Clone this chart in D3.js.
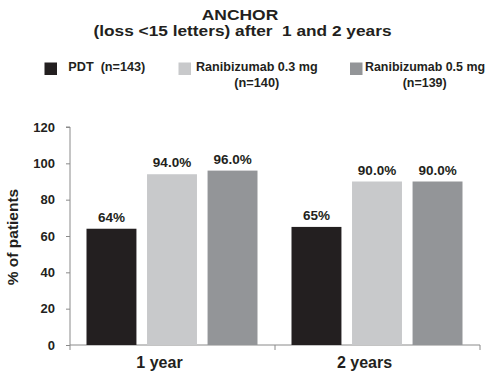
<!DOCTYPE html>
<html><head><meta charset="utf-8">
<script src="https://cdn.jsdelivr.net/npm/d3@7"></script>
<style>body{margin:0;background:#fff}svg{display:block;font-family:"Liberation Sans",Arial,sans-serif;font-weight:bold}text{white-space:pre}</style>
</head><body><div id="chart"></div>
<script>
const categories = ["1 year", "2 years"];
const series = ["PDT", "Ranibizumab 0.3 mg", "Ranibizumab 0.5 mg"];
const legendLine1 = ["PDT  (n=143)", "Ranibizumab 0.3 mg", "Ranibizumab 0.5 mg"];
const legendLine2 = ["", "(n=140)", "(n=139)"];
const pdtValues = [64, 65];
const rani03Values = [94, 90];
const rani05Values = [96, 90];
const valueLabels = [["64%", "94.0%", "96.0%"], ["65%", "90.0%", "90.0%"]];
const yTicks = [0, 20, 40, 60, 80, 100, 120];
const colors = ["#231f20", "#c8c9cb", "#939598"];

const W = 490, H = 385;
const svg = d3.select("#chart").append("svg").attr("width", W).attr("height", H);

const x0 = d3.scaleBand().domain(categories).range([70, 480]).paddingInner(0).paddingOuter(0);
const x1 = d3.scaleBand().domain(series).range([16.5, 187.5]).paddingInner(0.175).paddingOuter(0);
const y = d3.scaleLinear().domain([0, 120]).range([345, 127]);

const data = categories.map((c, i) => ({cat: c, vals: [pdtValues[i], rani03Values[i], rani05Values[i]], labels: valueLabels[i]}));

// title
svg.append("text").attr("x", 240).attr("y", 19.5).attr("text-anchor", "middle").attr("font-size", 15.5)
  .attr("textLength", 76.5).attr("lengthAdjust", "spacingAndGlyphs").attr("fill", "#231f20").text("ANCHOR");
svg.append("text").attr("x", 242.5).attr("y", 35.5).attr("text-anchor", "middle").attr("font-size", 15.5)
  .attr("textLength", 298).attr("lengthAdjust", "spacingAndGlyphs").attr("fill", "#231f20").text("(loss <15 letters) after  1 and 2 years");

// legend
const legX = [44.5, 178.5, 350];
const legTextX = [68.3, 196, 365];
const legLen = [77, 121.7, 120];
const leg2X = [0, 256.8, 424.7];
const leg2Len = [0, 45, 44];
series.forEach((s, i) => {
  svg.append("rect").attr("x", legX[i]).attr("y", 62.5).attr("width", 12.5).attr("height", 12.5).attr("fill", colors[i]);
  svg.append("text").attr("x", legTextX[i]).attr("y", 71).attr("font-size", 12.5)
    .attr("textLength", legLen[i]).attr("lengthAdjust", "spacingAndGlyphs").attr("fill", "#231f20").text(legendLine1[i]);
  if (legendLine2[i]) {
    svg.append("text").attr("x", leg2X[i]).attr("y", 87).attr("text-anchor", "middle").attr("font-size", 12.5)
      .attr("textLength", leg2Len[i]).attr("lengthAdjust", "spacingAndGlyphs").attr("fill", "#231f20").text(legendLine2[i]);
  }
});

// y axis
const yAxis = d3.axisLeft(y).tickValues(yTicks).tickSize(4).tickPadding(11);
const gy = svg.append("g").attr("transform", "translate(70,0)").call(yAxis);
gy.select(".domain").attr("stroke", "#8a8a8a").attr("d", "M-4," + y(120) + "H0V" + y(0));
gy.selectAll(".tick line").attr("stroke", "#8a8a8a");
gy.selectAll(".tick text").attr("font-size", 13).attr("font-family", "Liberation Sans, Arial, sans-serif").attr("font-weight", "bold").attr("fill", "#231f20");

// x axis
const gx = svg.append("g").attr("transform", "translate(0,345)");
gx.append("line").attr("x1", 70).attr("x2", 480).attr("y1", 0).attr("y2", 0).attr("stroke", "#8a8a8a");
[70, x0("2 years"), 480].forEach(v => gx.append("line").attr("x1", v).attr("x2", v).attr("y1", 0).attr("y2", 5).attr("stroke", "#8a8a8a"));
categories.forEach(c => {
  gx.append("text").attr("x", x0(c) + x0.bandwidth() / 2 - 13).attr("y", 22.5).attr("text-anchor", "middle").attr("font-size", 16).attr("fill", "#231f20").text(c);
});

// y label
svg.append("text").attr("transform", "translate(18,237) rotate(-90)").attr("text-anchor", "middle").attr("font-size", 15.5).attr("fill", "#231f20").text("% of patients");

// bars
const groups = svg.selectAll(".grp").data(data).enter().append("g").attr("transform", d => "translate(" + x0(d.cat) + ",0)");
groups.selectAll("rect").data(d => d.vals.map((v, i) => ({s: series[i], v, i, label: d.labels[i]}))).enter()
  .append("rect").attr("x", d => x1(d.s)).attr("width", x1.bandwidth())
  .attr("y", d => y(d.v)).attr("height", d => y(0) - y(d.v)).attr("fill", d => colors[d.i]);
groups.selectAll(".vl").data(d => d.vals.map((v, i) => ({s: series[i], v, i, label: d.labels[i]}))).enter()
  .append("text").attr("x", d => x1(d.s) + x1.bandwidth() / 2).attr("y", d => y(d.v) - 7)
  .attr("text-anchor", "middle").attr("font-size", 13.5).attr("fill", "#231f20").text(d => d.label);
</script></body></html>
